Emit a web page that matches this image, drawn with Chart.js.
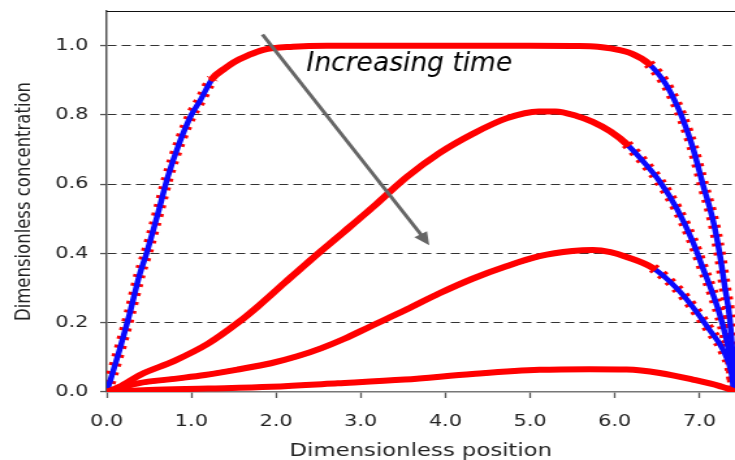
<!DOCTYPE html>
<html>
<head>
<meta charset="utf-8">
<script src="https://cdn.jsdelivr.net/npm/chart.js@4"></script>
<style>
  html, body { margin: 0; padding: 0; background: #fff; overflow: hidden; }
  #wrap { width: 735px; height: 460px; overflow: hidden; }
  /* the original figure is stretched horizontally, so is this canvas */
  canvas { display: block; transform-origin: 0 0; transform: scaleX(1.30088); }
</style>
</head>
<body>
<div id="wrap"><canvas id="c" width="565" height="460"></canvas></div>
<script>
// Profiles (dimensionless position / concentration)
const xA = [0, 0.07, 0.15, 0.27, 0.39, 0.47, 0.61, 0.72, 0.86, 1.0, 1.1, 1.25, 1.4, 1.5, 1.67, 1.85, 2.2, 2.6, 3.0, 3.5, 4.0, 4.5, 5.0, 5.5, 5.8, 5.95, 6.2, 6.4, 6.6, 6.7, 6.8, 6.92, 7.04, 7.16, 7.24, 7.30, 7.36, 7.39, 7.41];
const yA = [0, 0.055, 0.12, 0.225, 0.34, 0.40, 0.52, 0.62, 0.72, 0.80, 0.84, 0.905, 0.935, 0.952, 0.972, 0.988, 0.997, 1.0, 1.0, 1.0, 1.0, 1.0, 1.0, 0.999, 0.997, 0.992, 0.977, 0.948, 0.89, 0.845, 0.79, 0.707, 0.60, 0.496, 0.398, 0.303, 0.207, 0.11, 0];

const xB = [0, 0.15, 0.4, 0.8, 1.2, 1.55, 1.8, 2.1, 2.45, 2.8, 3.14, 3.54, 3.93, 4.32, 4.72, 5.1, 5.3, 5.55, 5.74, 5.95, 6.14, 6.37, 6.53, 6.73, 6.92, 7.04, 7.16, 7.24, 7.32, 7.38, 7.41];
const yB = [0, 0.015, 0.05, 0.09, 0.14, 0.20, 0.25, 0.315, 0.39, 0.462, 0.533, 0.62, 0.69, 0.745, 0.79, 0.81, 0.81, 0.797, 0.78, 0.752, 0.716, 0.656, 0.608, 0.531, 0.435, 0.358, 0.282, 0.224, 0.15, 0.073, 0];

const xC = [0, 0.37, 0.8, 1.16, 1.55, 1.94, 2.25, 2.53, 2.8, 3.12, 3.54, 3.93, 4.32, 4.72, 5.11, 5.5, 5.74, 5.95, 6.14, 6.45, 6.73, 6.92, 7.12, 7.28, 7.38, 7.41];
const yC = [0, 0.025, 0.038, 0.049, 0.065, 0.083, 0.103, 0.126, 0.153, 0.19, 0.238, 0.285, 0.327, 0.363, 0.392, 0.407, 0.41, 0.404, 0.39, 0.358, 0.30, 0.246, 0.179, 0.121, 0.054, 0];

const xD = [0, 0.5, 1.2, 1.94, 2.73, 3.52, 4.32, 5.11, 5.7, 6.14, 6.53, 6.92, 7.24, 7.38, 7.41];
const yD = [0, 0.006, 0.01, 0.015, 0.025, 0.036, 0.052, 0.064, 0.066, 0.065, 0.055, 0.036, 0.017, 0.005, 0];

// Annotation
const arrowFrom = [1.84, 1.032];
const arrowTo = [3.81, 0.424];
const labelAt = [2.36, 0.926];
const labelText = 'Increasing time';

const STRETCH = 735 / 565;
const red = '#ff0000';
const blue = '#0a0aff';
const none = 'rgba(0,0,0,0)';

// steep parts show the blue line with separate markers, flat parts a red band
function steep(c) {
    const dx = Math.abs(c.p1.x - c.p0.x);
    const dy = c.p1.y - c.p0.y;
    // falling parts open up sooner than rising ones
    const limit = dy > 0 ? 1.05 : 2.0;
    return Math.abs(dy) > limit * dx;
}

function points(xs, ys) {
    return xs.map((v, i) => ({x: v, y: ys[i]}));
}

function curveSets(xs, ys) {
    const base = {pointRadius: 0, cubicInterpolationMode: 'monotone', fill: false};
    return [
        Object.assign({}, base, {
            data: points(xs, ys), order: 0, borderColor: red, borderWidth: 6,
            borderCapStyle: 'round', borderJoinStyle: 'round',
            segment: {borderColor: c => steep(c) ? none : red}
        }),
        Object.assign({}, base, {
            data: points(xs, ys), order: 1, borderColor: blue, borderWidth: 4.5
        }),
        Object.assign({}, base, {
            data: points(xs, ys), order: 2, borderColor: red, borderWidth: 9.5,
            borderDash: [3, 6],
            segment: {borderColor: c => steep(c) ? red : none}
        })
    ];
}

const datasets = [].concat(
    curveSets(xA, yA),
    curveSets(xB, yB),
    curveSets(xC, yC),
    curveSets(xD, yD)
);

// Top frame line, arrow and label
const annotations = {
    id: 'annotations',
    afterDatasetsDraw(chart) {
        const ctx = chart.ctx;
        const area = chart.chartArea;
        const sx = chart.scales.x;
        const sy = chart.scales.y;

        ctx.save();
        ctx.strokeStyle = '#111';
        ctx.lineWidth = 1;
        ctx.beginPath();
        ctx.moveTo(area.left, area.top + 0.5);
        ctx.lineTo(area.right, area.top + 0.5);
        ctx.stroke();

        const x1 = sx.getPixelForValue(arrowFrom[0]);
        const y1 = sy.getPixelForValue(arrowFrom[1]);
        const x2 = sx.getPixelForValue(arrowTo[0]);
        const y2 = sy.getPixelForValue(arrowTo[1]);
        const ang = Math.atan2(y2 - y1, x2 - x1);
        const head = 14;
        ctx.strokeStyle = '#666';
        ctx.fillStyle = '#666';
        ctx.lineWidth = 3;
        ctx.beginPath();
        ctx.moveTo(x1, y1);
        ctx.lineTo(x2 - head * 0.8 * Math.cos(ang), y2 - head * 0.8 * Math.sin(ang));
        ctx.stroke();
        ctx.beginPath();
        ctx.moveTo(x2, y2);
        ctx.lineTo(x2 - head * Math.cos(ang - 0.42), y2 - head * Math.sin(ang - 0.42));
        ctx.lineTo(x2 - head * Math.cos(ang + 0.42), y2 - head * Math.sin(ang + 0.42));
        ctx.closePath();
        ctx.fill();

        // the text box is not stretched in the original
        ctx.translate(sx.getPixelForValue(labelAt[0]), sy.getPixelForValue(labelAt[1]));
        ctx.scale(1 / STRETCH, 1);
        ctx.font = 'italic 26.5px "DejaVu Sans"';
        ctx.fillStyle = '#000';
        ctx.textBaseline = 'alphabetic';
        ctx.fillText(labelText, 0, 0);
        ctx.restore();
    }
};

const tickFont = {family: 'DejaVu Sans', size: 16};

new Chart(document.getElementById('c'), {
    type: 'line',
    data: {datasets: datasets},
    options: {
        responsive: false,
        animation: false,
        events: [],
        layout: {padding: {top: 11, left: 0, right: 0, bottom: 0}},
        plugins: {legend: {display: false}, tooltip: {enabled: false}},
        scales: {
            x: {
                type: 'linear',
                min: 0,
                max: 7.42,
                afterFit: s => {
                    s.height = 68;
                    s.paddingLeft = 0;
                    s.paddingRight = 0;
                },
                ticks: {
                    stepSize: 1, includeBounds: false, padding: 14, maxRotation: 0,
                    color: '#222', font: tickFont,
                    callback: v => v.toFixed(1)
                },
                grid: {drawOnChartArea: false, tickLength: 6, tickColor: '#555', tickWidth: 1.3},
                border: {color: '#777', width: 1.5},
                title: {
                    display: true, text: 'Dimensionless position', color: '#222',
                    font: {family: 'DejaVu Sans', size: 17.5, lineHeight: 1},
                    padding: {top: 0, bottom: 0}
                }
            },
            y: {
                type: 'linear',
                min: 0,
                max: 1.1,
                afterFit: s => {
                    s.width = 82;
                    s.paddingTop = 0;
                    s.paddingBottom = 0;
                },
                ticks: {
                    stepSize: 0.2, includeBounds: false, padding: 9,
                    color: '#222', font: tickFont,
                    callback: v => v.toFixed(1)
                },
                grid: {
                    color: c => (c.tick && c.tick.value === 0) ? none : '#333',
                    lineWidth: 1.1, tickLength: 5, tickColor: '#555', tickWidth: 1.3
                },
                border: {color: '#555', width: 1.5, dash: [7, 4]},
                title: {
                    display: true, text: 'Dimensionless concentration', color: '#222',
                    font: {family: 'DejaVu Sans', size: 16.5, lineHeight: 1.2},
                    padding: {top: 9, bottom: 0}
                }
            }
        }
    },
    plugins: [annotations]
});
</script>
</body>
</html>
